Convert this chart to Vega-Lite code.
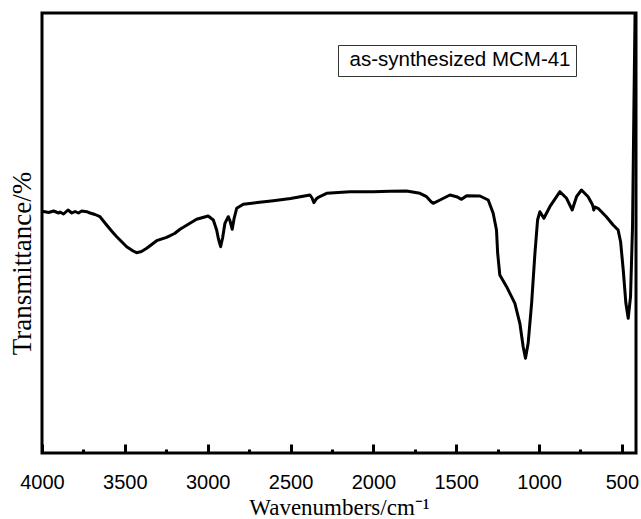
{
  "$schema": "https://vega.github.io/schema/vega-lite/v6.json",
  "width": 594,
  "height": 440,
  "autosize": {"type": "none"},
  "padding": {"left": 42, "top": 13, "right": 5, "bottom": 66},
  "background": "white",
  "view": {"stroke": "black", "strokeWidth": 3},
  "config": {
    "view": {"stroke": "black", "strokeWidth": 3},
    "font": "Liberation Sans"
  },
  "layer": [
    {
      "data": {
        "values": [
          {"w": 3995, "t": 241.5}, {"w": 3982, "t": 241.3}, {"w": 3960, "t": 240.5}, {"w": 3930, "t": 242},
          {"w": 3900, "t": 240}, {"w": 3891, "t": 241}, {"w": 3870, "t": 239}, {"w": 3843, "t": 243},
          {"w": 3820, "t": 240}, {"w": 3800, "t": 241.5}, {"w": 3780, "t": 240}, {"w": 3760, "t": 242},
          {"w": 3730, "t": 241.3}, {"w": 3710, "t": 240}, {"w": 3680, "t": 238.5}, {"w": 3650, "t": 236.3},
          {"w": 3610, "t": 228}, {"w": 3580, "t": 222}, {"w": 3549, "t": 216.3}, {"w": 3489, "t": 206.3},
          {"w": 3450, "t": 202}, {"w": 3429, "t": 200.3}, {"w": 3400, "t": 201.5}, {"w": 3368, "t": 204.7},
          {"w": 3308, "t": 212.3}, {"w": 3248, "t": 215.7}, {"w": 3200, "t": 219.5}, {"w": 3167, "t": 223.7},
          {"w": 3107, "t": 229.7}, {"w": 3067, "t": 233.7}, {"w": 2997, "t": 237}, {"w": 2966, "t": 233},
          {"w": 2946, "t": 223}, {"w": 2935, "t": 214}, {"w": 2922, "t": 206.3}, {"w": 2910, "t": 215},
          {"w": 2896, "t": 229.7}, {"w": 2876, "t": 236.3}, {"w": 2865, "t": 232}, {"w": 2852, "t": 223.7},
          {"w": 2840, "t": 235}, {"w": 2825, "t": 244.7}, {"w": 2785, "t": 248.7}, {"w": 2700, "t": 250.5},
          {"w": 2604, "t": 252.3}, {"w": 2500, "t": 254.5}, {"w": 2383, "t": 258}, {"w": 2370, "t": 255},
          {"w": 2359, "t": 250.3}, {"w": 2345, "t": 254}, {"w": 2333, "t": 255.7}, {"w": 2282, "t": 259.7},
          {"w": 2141, "t": 261.3}, {"w": 2001, "t": 261.3}, {"w": 1900, "t": 261.8}, {"w": 1800, "t": 262},
          {"w": 1719, "t": 259.7}, {"w": 1679, "t": 256.3}, {"w": 1650, "t": 251}, {"w": 1639, "t": 249.7},
          {"w": 1598, "t": 253}, {"w": 1538, "t": 258}, {"w": 1498, "t": 256.3}, {"w": 1468, "t": 253.7},
          {"w": 1437, "t": 257.3}, {"w": 1357, "t": 257}, {"w": 1307, "t": 253}, {"w": 1277, "t": 239.7},
          {"w": 1257, "t": 223}, {"w": 1250, "t": 200}, {"w": 1237, "t": 178}, {"w": 1196, "t": 166.3},
          {"w": 1146, "t": 149.7}, {"w": 1116, "t": 129.7}, {"w": 1096, "t": 106.3}, {"w": 1082, "t": 94.7},
          {"w": 1066, "t": 109.7}, {"w": 1045, "t": 149.7}, {"w": 1025, "t": 199.7}, {"w": 1009, "t": 233},
          {"w": 995, "t": 241.3}, {"w": 971, "t": 234.7}, {"w": 935, "t": 246.3}, {"w": 874, "t": 261.3},
          {"w": 834, "t": 254.7}, {"w": 800, "t": 243}, {"w": 774, "t": 256.3}, {"w": 744, "t": 263},
          {"w": 704, "t": 256.3}, {"w": 680, "t": 249}, {"w": 674, "t": 246.3}, {"w": 670, "t": 243},
          {"w": 664, "t": 246}, {"w": 644, "t": 244.7}, {"w": 594, "t": 236.3}, {"w": 553, "t": 228},
          {"w": 523, "t": 223}, {"w": 508, "t": 211.3}, {"w": 492, "t": 183}, {"w": 476, "t": 149.7},
          {"w": 462, "t": 134.7}, {"w": 448, "t": 156.3}, {"w": 436, "t": 226.3}, {"w": 428, "t": 340},
          {"w": 420, "t": 450}
        ]
      },
      "mark": {"type": "line", "color": "black", "strokeWidth": 3, "clip": true, "strokeJoin": "round"},
      "encoding": {
        "x": {
          "field": "w", "type": "quantitative",
          "scale": {"domain": [4000, 415], "nice": false, "zero": false},
          "axis": {
            "values": [4000, 3750, 3500, 3250, 3000, 2750, 2500, 2250, 2000, 1750, 1500, 1250, 1000, 750, 500],
            "labelExpr": "datum.value % 500 === 0 ? format(datum.value, 'd') : ''",
            "grid": false, "domain": false,
            "tickSize": {"condition": {"test": "datum.value % 500 === 0", "value": -9}, "value": -4},
            "tickWidth": 3, "tickColor": "black",
            "labelFont": "Liberation Sans", "labelFontSize": 20, "labelColor": "black",
            "labelPadding": 28, "labelFlush": false,
            "title": "Wavenumbers/cm⁻¹",
            "titleFont": "Liberation Serif", "titleFontSize": 23, "titleFontWeight": "normal",
            "titleColor": "black", "titleBaseline": "alphabetic", "titleY": 61
          }
        },
        "y": {
          "field": "t", "type": "quantitative",
          "scale": {"domain": [0, 440], "nice": false, "zero": false},
          "axis": {
            "labels": false, "ticks": false, "grid": false, "domain": false,
            "title": "Transmittance/%",
            "titleFont": "Liberation Serif", "titleFontSize": 27, "titleFontWeight": "normal",
            "titleColor": "black", "titleX": -20, "titleY": 250,
            "titleAlign": "center", "titleBaseline": "middle", "titleAngle": -90
          }
        }
      }
    },
    {
      "data": {"values": [{"s": "as-synthesized MCM-41"}]},
      "mark": {"type": "point", "opacity": 0},
      "encoding": {
        "color": {
          "field": "s",
          "type": "nominal",
          "scale": {"range": ["black"]},
          "legend": {
            "title": null,
            "orient": "none", "legendX": 296, "legendY": 32,
            "strokeColor": "#333",
            "padding": 5,
            "symbolSize": 0, "symbolOpacity": 0, "symbolStrokeWidth": 0,
            "labelOffset": -14, "labelLimit": 0,
            "labelFont": "Liberation Sans", "labelFontSize": 20.5, "labelColor": "black"
          }
        }
      }
    }
  ]
}
